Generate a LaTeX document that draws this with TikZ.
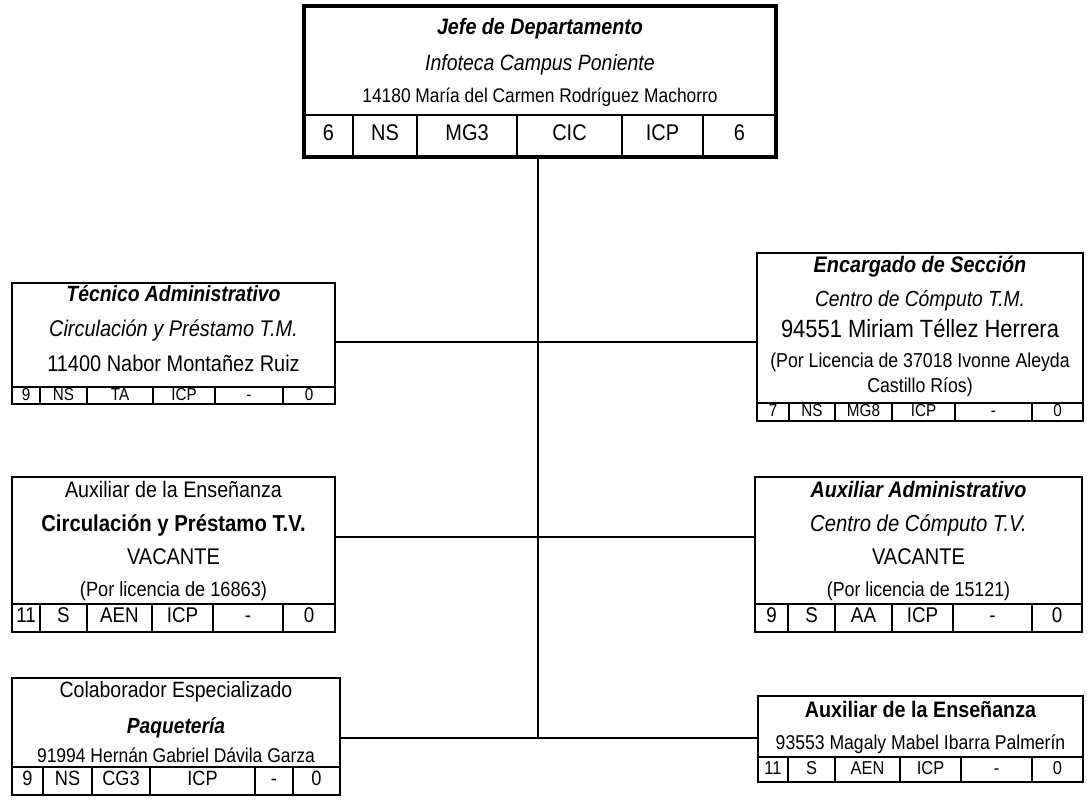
\documentclass[tikz,border=0pt]{standalone}
\usepackage{fontspec}
\setmainfont[FakeStretch=0.88]{Liberation Sans}
\usepackage{tikz}
\usetikzlibrary{positioning, fit, calc}

\newcommand{\fsz}[1]{\fontsize{#1}{18}\selectfont}

\begin{document}
\begin{tikzpicture}[
    x=0.75pt, y=-0.75pt,
    font=\fsz{16},
    boxstyle/.style={draw=black, line width=1.5pt, inner sep=0pt},
    headstyle/.style={draw=black, line width=3.5pt, inner sep=0pt},
    cellstyle/.style={draw=black, line width=1.2pt, inner sep=0pt, minimum height=#1,
        text height=0.716em, text depth=0pt},
    cellstyle/.default=12.75pt,
    txt/.style={inner sep=0pt, text height=0.716em, text depth=0pt},
    link/.style={draw=black, line width=1.2pt}
  ]
    \useasboundingbox (0,0) rectangle (1087,801);

    % Jefe de Departamento
    \node[headstyle, fit={(304,6) (776,157)}] (jefe) {};
    \node[txt, font=\fsz{16.8}\bfseries\itshape] (jefe-1) at (540,30) {Jefe de Departamento};
    \node[txt, font=\fsz{16.6}\itshape] (jefe-2) at (540,66) {Infoteca Campus Poniente};
    \node[txt, font=\fsz{14.8}] (jefe-3) at (540,98) {14180 María del Carmen Rodríguez Machorro};
    \foreach \xa/\xb/\t [count=\i] in {304/353/6, 353/417/NS, 417/517/MG3, 517/622/CIC, 622/703/ICP, 703/776/6}
        \node[cellstyle=31.5pt, line width=1.5pt, font=\fsz{17}, minimum width={(\xb-\xa)*0.75pt}] (jefe-c\i) at ({(\xa+\xb)/2},136) {\t};
    \draw[headstyle] (304,6) rectangle (776,157);

    % Tecnico Administrativo
    \node[boxstyle, fit={(12,283) (335,404)}] (tecadm) {};
    \node[txt, font=\fsz{16.5}\bfseries\itshape] (tecadm-1) at (173.5,297) {Técnico Administrativo};
    \node[txt, font=\fsz{17}\itshape] (tecadm-2) at (173.5,332) {Circulación y Préstamo T.M.};
    \node[txt, font=\fsz{17}] (tecadm-3) at (173.5,367) {11400 Nabor Montañez Ruiz};
    \foreach \xa/\xb/\t [count=\i] in {12/40/9, 40/87/NS, 87/153/TA, 153/215/ICP, 215/283/-, 283/335/0}
        \node[cellstyle, font=\fsz{13}, minimum width={(\xb-\xa)*0.75pt}] (tecadm-c\i) at ({(\xa+\xb)/2},395.5) {\t};

    % Encargado de Seccion
    \node[boxstyle, fit={(757,253) (1083,421)}] (encsec) {};
    \node[txt, font=\fsz{16.9}\bfseries\itshape] (encsec-1) at (920,268) {Encargado de Sección};
    \node[txt, font=\fsz{16.4}\itshape] (encsec-2) at (920,302) {Centro de Cómputo T.M.};
    \node[txt, font=\fsz{18.7}] (encsec-3) at (920,333) {94551 Miriam Téllez Herrera};
    \node[txt, font=\fsz{15.1}] (encsec-4) at (920,363) {(Por Licencia de 37018 Ivonne Aleyda};
    \node[txt, font=\fsz{15.1}] (encsec-5) at (920,388) {Castillo Ríos)};
    \foreach \xa/\xb/\t [count=\i] in {757/789/7, 789/835/NS, 835/892/MG8, 892/955/ICP, 955/1032/-, 1032/1083/0}
        \node[cellstyle=13.5pt, font=\fsz{13}, minimum width={(\xb-\xa)*0.75pt}] (encsec-c\i) at ({(\xa+\xb)/2},412) {\t};

    % Auxiliar de la Ensenanza T.V.
    \node[boxstyle, fit={(12,477) (335,632)}] (auxtv) {};
    \node[txt, font=\fsz{16.8}] (auxtv-1) at (173.5,493) {Auxiliar de la Enseñanza};
    \node[txt, font=\fsz{17.3}\bfseries] (auxtv-2) at (173.5,527) {Circulación y Préstamo T.V.};
    \node[txt, font=\fsz{17}] (auxtv-3) at (173.5,560) {VACANTE};
    \node[txt, font=\fsz{15.5}] (auxtv-4) at (173.5,592) {(Por licencia de 16863)};
    \foreach \xa/\xb/\t [count=\i] in {12/40/11, 40/87/S, 87/152/AEN, 152/213/ICP, 213/283/-, 283/335/0}
        \node[cellstyle=21pt, font=\fsz{16}, minimum width={(\xb-\xa)*0.75pt}] (auxtv-c\i) at ({(\xa+\xb)/2},618) {\t};

    % Auxiliar Administrativo
    \node[boxstyle, fit={(755,477) (1082,632)}] (auxadm) {};
    \node[txt, font=\fsz{16.8}\bfseries\itshape] (auxadm-1) at (918.5,493) {Auxiliar Administrativo};
    \node[txt, font=\fsz{17.3}\itshape] (auxadm-2) at (918.5,527) {Centro de Cómputo T.V.};
    \node[txt, font=\fsz{17}] (auxadm-3) at (918.5,560) {VACANTE};
    \node[txt, font=\fsz{15.2}] (auxadm-4) at (918.5,592) {(Por licencia de 15121)};
    \foreach \xa/\xb/\t [count=\i] in {755/788/9, 788/835/S, 835/892/AA, 892/953/ICP, 953/1032/-, 1032/1082/0}
        \node[cellstyle=21pt, font=\fsz{16}, minimum width={(\xb-\xa)*0.75pt}] (auxadm-c\i) at ({(\xa+\xb)/2},618) {\t};

    % Colaborador Especializado
    \node[boxstyle, fit={(12,678) (340,795)}] (colesp) {};
    \node[txt, font=\fsz{16.6}] (colesp-1) at (176,693) {Colaborador Especializado};
    \node[txt, font=\fsz{16.4}\bfseries\itshape] (colesp-2) at (176,729) {Paquetería};
    \node[txt, font=\fsz{14.9}] (colesp-3) at (176,758) {91994 Hernán Gabriel Dávila Garza};
    \foreach \xa/\xb/\t [count=\i] in {12/43/9, 43/92/NS, 92/150/CG3, 150/255/ICP, 255/293/-, 293/340/0}
        \node[cellstyle=21pt, font=\fsz{15.5}, minimum width={(\xb-\xa)*0.75pt}] (colesp-c\i) at ({(\xa+\xb)/2},781) {\t};

    % Auxiliar de la Ensenanza
    \node[boxstyle, fit={(758,696) (1083,782)}] (auxens) {};
    \node[txt, font=\fsz{16.8}\bfseries] (auxens-1) at (920.5,713) {Auxiliar de la Enseñanza};
    \node[txt, font=\fsz{15}] (auxens-2) at (920.5,745) {93553 Magaly Mabel Ibarra Palmerín};
    \foreach \xa/\xb/\t [count=\i] in {758/788/11, 788/835/S, 835/900/AEN, 900/961/ICP, 961/1032/-, 1032/1083/0}
        \node[cellstyle=18.75pt, font=\fsz{14}, minimum width={(\xb-\xa)*0.75pt}] (auxens-c\i) at ({(\xa+\xb)/2},769.5) {\t};

    % connectors
    \coordinate (row1) at (538,342);
    \coordinate (row2) at (538,537);
    \coordinate (row3) at (538,738);
    \draw[link] (jefe.south -| row1) -- (row3);
    \draw[link] (tecadm.east |- row1) -- (encsec.west |- row1);
    \draw[link] (auxtv.east |- row2) -- (auxadm.west |- row2);
    \draw[link] (colesp.east |- row3) -- (auxens.west |- row3);
\end{tikzpicture}
\end{document}
